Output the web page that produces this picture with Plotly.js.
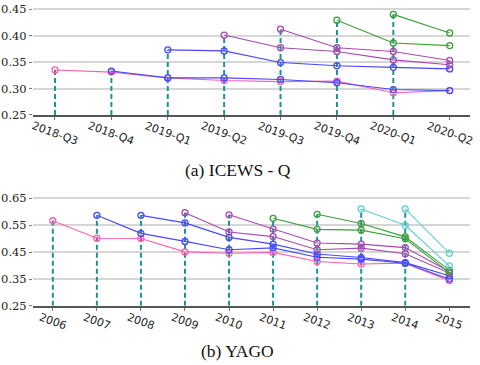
<!DOCTYPE html>
<html>
<head>
<meta charset="utf-8">
<script src="https://cdn.plot.ly/plotly-3.0.1.min.js"></script>
<style>
  body { margin: 0; background: #fff; }
  #chart { width: 480px; height: 365px; }
</style>
</head>
<body>
<div id="chart"></div>
<script>
// ICEWS - Q (quarters)
const icewsCats = ['2018-Q3', '2018-Q4', '2019-Q1', '2019-Q2', '2019-Q3', '2019-Q4', '2020-Q1', '2020-Q2'];
const icews1 = [0.335, 0.331, 0.320, 0.315, 0.313, 0.314, 0.292, 0.296];
const icews2 = [null, 0.333, 0.320, 0.320, 0.317, 0.311, 0.298, 0.296];
const icews3 = [null, null, 0.373, 0.371, 0.349, 0.343, 0.340, 0.337];
const icews4 = [null, null, null, 0.401, 0.377, 0.370, 0.354, 0.345];
const icews5 = [null, null, null, null, 0.412, 0.377, 0.370, 0.353];
const icews6 = [null, null, null, null, null, 0.429, 0.386, 0.381];
const icews7 = [null, null, null, null, null, null, 0.440, 0.405];

// YAGO (years)
const yagoCats = ['2006', '2007', '2008', '2009', '2010', '2011', '2012', '2013', '2014', '2015'];
const yago1 = [0.567, 0.502, 0.501, 0.451, 0.446, 0.449, 0.415, 0.406, 0.409, 0.344];
const yago2 = [null, 0.587, 0.520, 0.490, 0.459, 0.466, 0.431, 0.424, 0.409, 0.350];
const yago3 = [null, null, 0.587, 0.559, 0.505, 0.480, 0.443, 0.430, 0.411, 0.362];
const yago4 = [null, null, null, 0.597, 0.525, 0.508, 0.459, 0.465, 0.444, 0.372];
const yago5 = [null, null, null, null, 0.589, 0.536, 0.484, 0.480, 0.467, 0.378];
const yago6 = [null, null, null, null, null, 0.576, 0.535, 0.532, 0.500, 0.374];
const yago7 = [null, null, null, null, null, null, 0.591, 0.557, 0.507, 0.383];
const yago8 = [null, null, null, null, null, null, null, 0.611, 0.550, 0.399];
const yago9 = [null, null, null, null, null, null, null, null, 0.611, 0.446];

const PINK = '#ff5fb0', BLUE = '#4848ff', PURPLE = '#a64ab0', GREEN = '#3f9f3f', CYAN = '#5fcfcf';
const icewsColors = [PINK, BLUE, BLUE, PURPLE, PURPLE, GREEN, GREEN];
const yagoColors = [PINK, BLUE, BLUE, PURPLE, PURPLE, GREEN, GREEN, CYAN, CYAN];

function buildTraces(cats, seriesList, colors, xa, ya) {
    let stems = [];
    let lines = [];
    for (var i = 0; i < seriesList.length; i++) {
        let s = seriesList[i];
        let first = s.findIndex(v => v !== null);
        // dashed stem from the axis up to where the series starts
        stems.push({
            x: [cats[first], cats[first]],
            y: [0.25, s[first]],
            xaxis: xa, yaxis: ya,
            mode: 'lines',
            line: { color: '#1f9393', width: 2, dash: '5px,3px' },
            hoverinfo: 'skip',
        });
        lines.push({
            x: cats,
            y: s,
            xaxis: xa, yaxis: ya,
            mode: 'lines+markers',
            line: { color: colors[i], width: 1.1 },
            marker: { symbol: 'circle-open', size: 6, color: colors[i], line: { width: 1.3 } },
        });
    }
    return stems.concat(lines);
}

let traces = buildTraces(icewsCats, [icews1, icews2, icews3, icews4, icews5, icews6, icews7], icewsColors, 'x', 'y')
    .concat(buildTraces(yagoCats, [yago1, yago2, yago3, yago4, yago5, yago6, yago7, yago8, yago9], yagoColors, 'x2', 'y2'));

const tickFontX = { family: 'DejaVu Sans', size: 11, color: '#222' };
const tickFontY = { family: 'DejaVu Serif', size: 11.5, color: '#222' };

// rotated x labels, centred under each tick (like matplotlib ha='center')
// x is the category index so that year strings are not read as numbers
function tickLabels(cats, xref, y) {
    return cats.map((c, i) => ({
        text: c, x: i, xref: xref, yref: 'paper', y: y,
        xanchor: 'center', yanchor: 'middle', textangle: 20,
        showarrow: false, font: tickFontX,
    }));
}

function xAxis(cats, range, anchor) {
    return {
        type: 'category', categoryarray: cats, range: range, anchor: anchor,
        showgrid: false, showline: true, linecolor: '#555', linewidth: 1.5,
        ticks: 'outside', ticklen: 3, tickcolor: '#777',
        showticklabels: false, zeroline: false,
    };
}

function yAxis(range, dtick, domain, anchor) {
    return {
        range: range, dtick: dtick, tick0: 0.25, domain: domain, anchor: anchor,
        tickformat: '.2f', showgrid: true, gridcolor: '#d6d6d6', gridwidth: 1.5,
        ticks: 'outside', ticklen: 3, tickcolor: '#777', showline: false,
        zeroline: false, tickfont: tickFontY,
    };
}

const titleFont = { family: 'Liberation Serif', size: 17.5, color: '#111' };

Plotly.newPlot('chart', traces, {
    width: 480, height: 365,
    margin: { l: 33, r: 10, t: 0, b: 0, autoexpand: false },
    showlegend: false,
    plot_bgcolor: '#fff', paper_bgcolor: '#fff',
    xaxis: xAxis(icewsCats, [-0.39, 7.36], 'y'),
    yaxis: yAxis([0.25, 0.452], 0.05, [0.685, 0.978], 'x'),
    xaxis2: xAxis(yagoCats, [-0.45, 9.47], 'y2'),
    yaxis2: yAxis([0.25, 0.655], 0.1, [0.162, 0.46], 'x2'),
    annotations: tickLabels(icewsCats, 'x', 0.634)
        .concat(tickLabels(yagoCats, 'x2', 0.12))
        .concat([
        { text: '(a) ICEWS - Q', xref: 'paper', yref: 'paper', x: 0.469, y: 0.534,
          xanchor: 'center', yanchor: 'middle', showarrow: false, font: titleFont },
        { text: '(b) YAGO', xref: 'paper', yref: 'paper', x: 0.469, y: 0.038,
          xanchor: 'center', yanchor: 'middle', showarrow: false, font: titleFont },
    ]),
}, { displayModeBar: false });
</script>
</body>
</html>
